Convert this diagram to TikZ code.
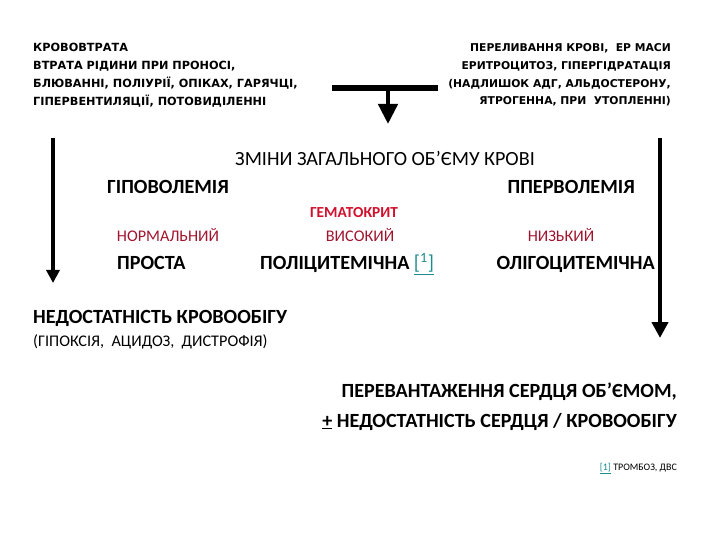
\documentclass[tikz,border=0pt]{standalone}
\usepackage{fontspec}
\setmainfont{Carlito}
\newfontfamily\comicfont{DejaVu Sans}
\usetikzlibrary{arrows.meta}
\definecolor{hemred}{HTML}{D0102C}
\definecolor{levred}{HTML}{A0142E}
\definecolor{reflink}{HTML}{1C8C8C}

\begin{document}
\begin{tikzpicture}[x=1bp, y=-1bp]
    % стилі
    \tikzstyle{cause}=[inner sep=0pt, font=\comicfont\bfseries\fontsize{11.3}{18}\selectfont]
    \tikzstyle{title}=[inner sep=0pt, font=\fontsize{20.2}{22}\selectfont]
    \tikzstyle{kind}=[inner sep=0pt, font=\bfseries\fontsize{20.2}{22}\selectfont]
    \tikzstyle{level}=[inner sep=0pt, text=levred, font=\fontsize{16.3}{18}\selectfont]
    \tikzstyle{flow}=[line width=4.5bp]
    \useasboundingbox (0,0) rectangle (720,540);

    % причини
    \node[cause, anchor=north west, align=left] (loss) at (33,43)
        {КРОВОВТРАТА\\ВТРАТА РІДИНИ ПРИ ПРОНОСІ,\\БЛЮВАННІ, ПОЛІУРІЇ, ОПІКАХ, ГАРЯЧЦІ,\\ГІПЕРВЕНТИЛЯЦІЇ, ПОТОВИДІЛЕННІ};
    \node[cause, anchor=north east, align=right, font=\comicfont\bfseries\fontsize{10.8}{18}\selectfont] (gain) at (671,43)
        {ПЕРЕЛИВАННЯ КРОВІ,\ \ ЕР МАСИ\\ЕРИТРОЦИТОЗ, ГІПЕРГІДРАТАЦІЯ\\(НАДЛИШОК АДГ, АЛЬДОСТЕРОНУ,\\ЯТРОГЕННА, ПРИ\ \ УТОПЛЕННІ)};

    % заголовок і форми
    \node[title, anchor=base] (head) at (385,166) {ЗМІНИ ЗАГАЛЬНОГО ОБ’ЄМУ КРОВІ};
    \node[kind, anchor=base west] (hypo) at (107,194) {ГІПОВОЛЕМІЯ};
    \node[kind, anchor=base east] (hyper) at (635,194) {ППЕРВОЛЕМІЯ};
    \node[inner sep=0pt, anchor=base, text=hemred, font=\bfseries\fontsize{15.4}{17}\selectfont] (hemat) at (354,218) {ГЕМАТОКРИТ};
    \node[level, anchor=base] (normal) at (168,242) {НОРМАЛЬНИЙ};
    \node[level, anchor=base] (high) at (360,242) {ВИСОКИЙ};
    \node[level, anchor=base] (low) at (561,242) {НИЗЬКИЙ};
    \node[kind, anchor=base west] (simple) at (117,270) {ПРОСТА};
    \node[kind, anchor=base west] (poly) at (260,270)
        {ПОЛІЦИТЕМІЧНА {\mdseries\color{reflink}\underline{[\textsuperscript{1}]}}};
    \node[kind, anchor=base east] (oligo) at (655,270) {ОЛІГОЦИТЕМІЧНА};

    % наслідки
    \node[kind, anchor=base west] (insuff) at (33,323) {НЕДОСТАТНІСТЬ КРОВООБІГУ};
    \node[inner sep=0pt, anchor=base west, font=\fontsize{16.3}{18}\selectfont] (signs) at (33,346)
        {(ГІПОКСІЯ,\ \ АЦИДОЗ,\ \ ДИСТРОФІЯ)};
    \node[kind, anchor=base east] (overload) at (677,397) {ПЕРЕВАНТАЖЕННЯ СЕРДЦЯ ОБ’ЄМОМ,};
    \node[kind, anchor=base east] (heart) at (677,427)
        {\underline{+} НЕДОСТАТНІСТЬ СЕРДЦЯ / КРОВООБІГУ};
    \node[inner sep=0pt, anchor=base east, font=\fontsize{10}{12}\selectfont] (note) at (677,470)
        {{\color{reflink}\underline{[1]}} ТРОМБОЗ, ДВС};

    % стрілки
    \coordinate (barL) at (332,88);
    \coordinate (barR) at (438,88);
    \coordinate (barMid) at (388,88);
    \coordinate (barEnd) at (388,124);
    \draw[line width=6bp] (barL) -- (barR);
    \draw[flow, -{Triangle[width=19bp,length=20bp]}] (barMid) -- (barEnd);

    \coordinate (hypoTop) at (53,138);
    \coordinate (hypoEnd) at (53,283);
    \draw[flow, -{Triangle[width=13bp,length=13bp]}] (hypoTop) -- (hypoEnd);

    \coordinate (hyperTop) at (660,138);
    \coordinate (hyperEnd) at (660,338);
    \draw[flow, -{Triangle[width=16bp,length=16bp]}] (hyperTop) -- (hyperEnd);
\end{tikzpicture}
\end{document}
